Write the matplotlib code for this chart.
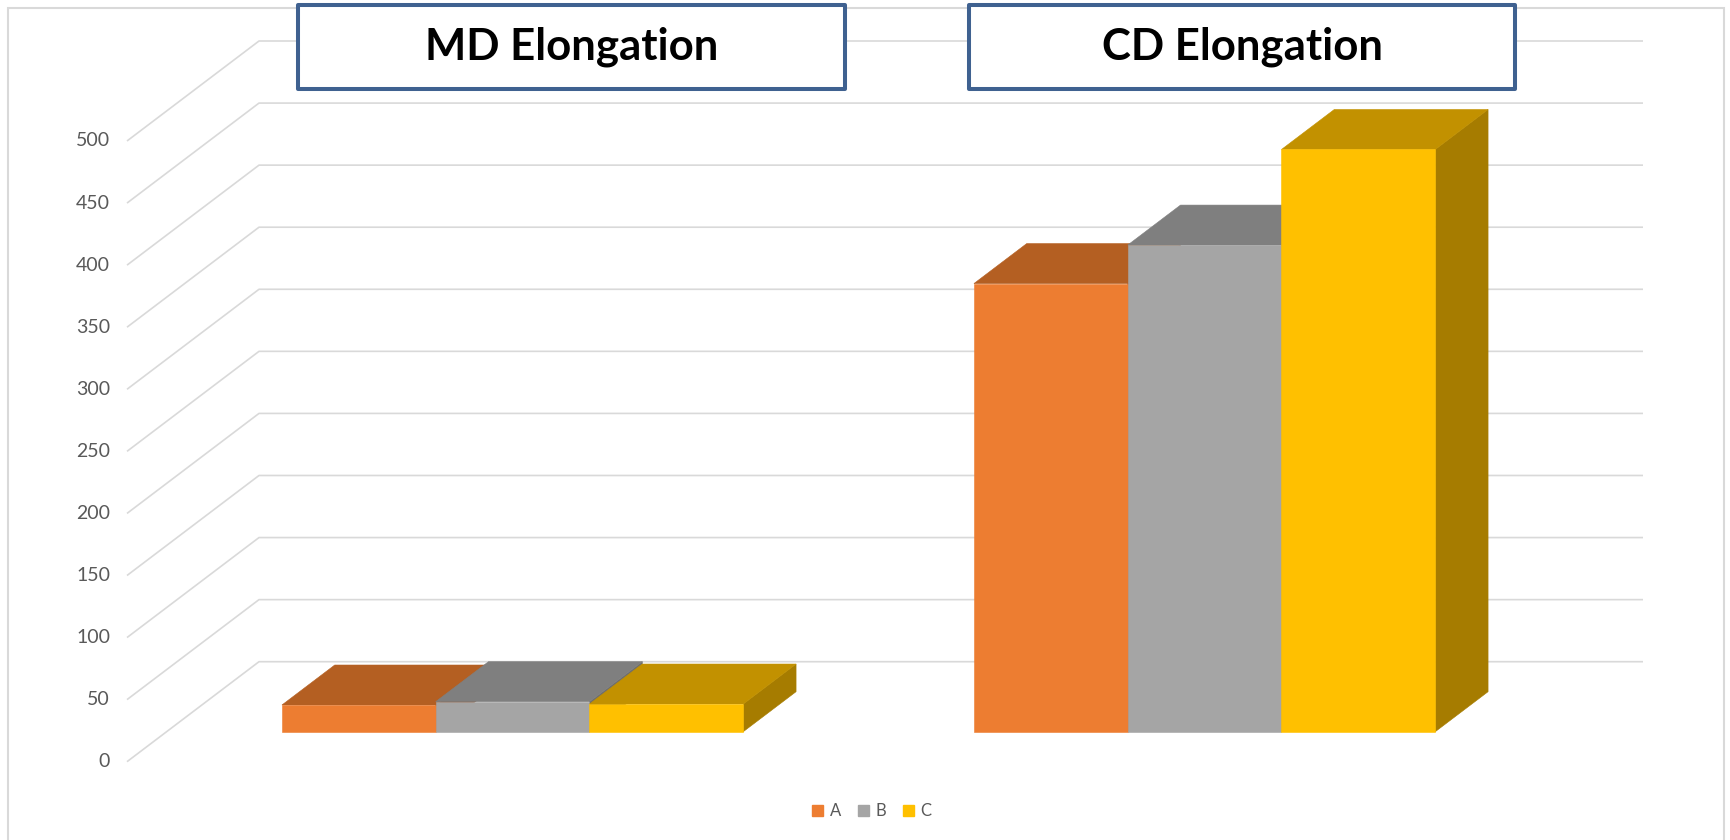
import matplotlib
matplotlib.use("Agg")
import matplotlib.pyplot as plt
from matplotlib.patches import Polygon, Rectangle, Patch
from matplotlib.transforms import offset_copy

plt.rcParams['font.family'] = ['Lato', 'DejaVu Sans']

# ---- data ----
categories = ["MD Elongation", "CD Elongation"]
series = ["A", "B", "C"]
values_A = [21.5, 361]
values_B = [24.2, 392]
values_C = [22.3, 469]
yticks = [0, 50, 100, 150, 200, 250, 300, 350, 400, 450, 500]

front_colors = ["#ED7D31", "#A5A5A5", "#FFC000"]
top_colors = ["#B45F22", "#7F7F7F", "#C29100"]
side_colors = ["#9C5020", "#6E6E6E", "#A67C00"]

# ---- figure / oblique 3-D geometry ----
W, H = 1731, 840
fig = plt.figure(figsize=(W / 100, H / 100), dpi=100)
ax = fig.add_axes([0, 0, 1, 1])

PX_PER_CAT = 692.0          # pixels per category along the front edge
PX_PER_UNIT = 1.2414        # pixels per value unit
X0_PX, Y0_PX = 127.0, 761.7  # front-left floor corner
ax.set_xlim(-X0_PX / PX_PER_CAT, (W - X0_PX) / PX_PER_CAT)
ax.set_ylim(-(H - Y0_PX) / PX_PER_UNIT, Y0_PX / PX_PER_UNIT)
ax.axis("off")

# full floor depth expressed in data units
DX = 132.0 / PX_PER_CAT
DY = 100.0 / PX_PER_UNIT
n_cat = len(categories)


def proj(c, v, d):
    """Oblique projection of (category pos, value, depth fraction)."""
    return (c + DX * d, v + DY * d)


grid_kw = dict(color="#D9D9D9", lw=1.2, zorder=1, solid_capstyle="butt")
for v in yticks:
    p0 = proj(0, v, 0)
    p1 = proj(0, v, 1)
    p2 = proj(n_cat, v, 1)
    ax.plot([p0[0], p1[0], p2[0]], [p0[1], p1[1], p2[1]], **grid_kw)

label_tr = offset_copy(ax.transData, fig=fig, x=-17, y=0, units="dots")
for v in yticks:
    ax.text(0, v, str(v), transform=label_tr, ha="right", va="center",
            fontsize=14, color="#595959")

# ---- bars ----
gap = 1.5
bar_w = 1.0 / (len(series) + gap)
d0, d1 = 0.3, 0.7
all_vals = [values_A, values_B, values_C]

z = 3
for i in range(n_cat):
    for j in range(len(series)):
        v = all_vals[j][i]
        L = i + gap * bar_w / 2 + j * bar_w
        R = L + bar_w
        front = [proj(L, 0, d0), proj(R, 0, d0), proj(R, v, d0), proj(L, v, d0)]
        top = [proj(L, v, d0), proj(R, v, d0), proj(R, v, d1), proj(L, v, d1)]
        side = [proj(R, 0, d0), proj(R, 0, d1), proj(R, v, d1), proj(R, v, d0)]
        ax.add_patch(Polygon(side, closed=True, fc=side_colors[j], ec=side_colors[j], lw=0.4, zorder=z))
        ax.add_patch(Polygon(top, closed=True, fc=top_colors[j], ec=top_colors[j], lw=0.4, zorder=z))
        ax.add_patch(Polygon(front, closed=True, fc=front_colors[j], ec=front_colors[j], lw=0.4, zorder=z))
        z += 1

# ---- chart border (bottom edge runs past the canvas) ----
ax.add_patch(Rectangle((8, -100), 1716, H - 8 + 100, transform=None, fill=False,
                       ec="#D9D9D9", lw=1.5, zorder=0))

# ---- category title boxes ----
box_px = [(298, 845), (969, 1515)]
for (x0, x1), name in zip(box_px, categories):
    # boxes in pixel space (y from top)
    y_top, y_bot = 5, 89
    rect = Rectangle((x0, H - y_bot), x1 - x0, y_bot - y_top, transform=None,
                     fc="white", ec="#3F6190", lw=2.9, zorder=20, joinstyle="round")
    ax.add_patch(rect)
    fig.text((x0 + x1) / 2 / W, 1 - (y_top + y_bot) / 2 / H, name,
             ha="center", va="center", fontsize=31.5, fontweight="bold",
             color="black", zorder=21)

# ---- legend ----
handles = [Patch(fc=c, ec=c) for c in front_colors]
fig.legend(handles, series, loc="center", bbox_to_anchor=(872 / W, 1 - 811 / H),
           ncol=3, frameon=False, fontsize=12, handlelength=0.66, handleheight=0.66,
           handletextpad=0.4, columnspacing=1.0, labelcolor="#595959")

fig.savefig("out.png", dpi=100)
